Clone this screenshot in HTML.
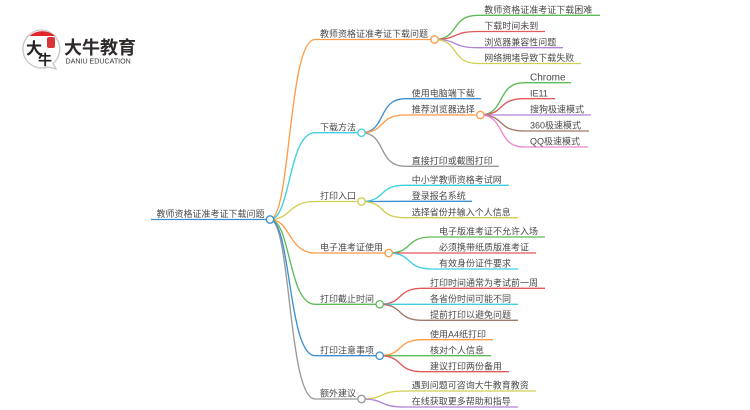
<!DOCTYPE html>
<html><head><meta charset="utf-8">
<style>
html,body{margin:0;padding:0;background:#fff;width:750px;height:410px;overflow:hidden}
svg{display:block;filter:blur(.35px)}
text.t{font-family:"Liberation Sans","Noto Sans CJK SC",sans-serif;font-size:9px;fill:#4a4a4a;transform:translateY(.6px)}
path{fill:none;stroke-width:1.35}
circle.n{fill:#fff;stroke-width:1.3}
</style></head><body>
<svg width="750" height="410" viewBox="0 0 750 410" xmlns="http://www.w3.org/2000/svg">
<!-- logo -->
<path d="M42 30a19 19 0 1 0 6 37l8 2-3-5.500a19 19 0 0 0-11-33.500z" stroke="#c8c8c8" stroke-width="1"/>
<path d="M29.500 36a19 19 0 0 1 25.500 0z" style="fill:#e0262b;stroke:none"/>
<rect x="47" y="37" width="8" height="11" rx="2" fill="#d8343a"/>
<text x="26" y="54" font-family="'Noto Sans CJK SC',sans-serif" font-size="16" font-weight="700" fill="#222">大</text>
<text x="38" y="65" font-family="'Noto Sans CJK SC',sans-serif" font-size="14" font-weight="700" fill="#222">牛</text>
<text x="64" y="54" font-family="'Noto Sans CJK SC',sans-serif" font-size="18" font-weight="700" fill="#2e2a2a">大牛教育</text>
<text x="65.500" y="63.300" font-family="'Liberation Sans',sans-serif" font-size="7.100" font-weight="400" fill="#3a3636">DANIU EDUCATION</text>

<!-- root -->
<path d="M151 219.500H270" stroke="#3d8fd1"/>
<path d="M270 219.500C291 219.500 288 39.500 315 39.500H434" stroke="#ff9c47"/>
<path d="M270 219.500C291 219.500 288 132.700 315 132.700H361" stroke="#3fd0e0"/>
<path d="M270 219.500C291 219.500 288 201.500 315 201.500H361" stroke="#cfcf55"/>
<path d="M270 219.500C291 219.500 288 253 315 253H388" stroke="#ff9c47"/>
<path d="M270 219.500C291 219.500 288 304.300 315 304.300H379" stroke="#5ebb58"/>
<path d="M270 219.500C291 219.500 288 399 315 399H361" stroke="#999"/>
<path d="M270 219.500C291 219.500 288 355.700 315 355.700H379" stroke="#3d8fd1"/>

<!-- B1 -->
<path d="M434 39.500C460 39.500 450 15.300 478 15.300H600" stroke="#5ebb58"/>
<path d="M434 39.500C460 39.500 450 31.500 478 31.500H545" stroke="#e25a5a"/>
<path d="M434 39.500C460 39.500 450 47.700 478 47.700H563" stroke="#b184d6"/>
<path d="M434 39.500C460 39.500 450 63.500 478 63.500H581" stroke="#cfcf55"/>
<!-- B2 -->
<path d="M361 132.700C387 132.700 377 98.700 405 98.700H481" stroke="#3d8fd1"/>
<path d="M361 132.700C387 132.700 377 115 405 115H480" stroke="#ff9c47"/>
<path d="M361 132.700C387 132.700 377 166.300 405 166.300H499" stroke="#999"/>
<path d="M480 115C506 115 496 82.700 524 82.700H571" stroke="#5ebb58"/>
<path d="M480 115C506 115 496 98.700 524 98.700H555" stroke="#e25a5a"/>
<path d="M480 115C506 115 496 115 524 115H591" stroke="#b184d6"/>
<path d="M480 115C506 115 496 131 524 131H589" stroke="#a5766a"/>
<path d="M480 115C506 115 496 147 524 147H588" stroke="#ee88d0"/>
<!-- B3 -->
<path d="M361 201.500C387 201.500 377 185.300 405 185.300H509" stroke="#3fd0e0"/>
<path d="M361 201.500C387 201.500 377 201.300 405 201.300H472" stroke="#3d8fd1"/>
<path d="M361 201.500C387 201.500 377 217.700 405 217.700H518" stroke="#cfcf55"/>
<!-- B4 -->
<path d="M388 253C414 253 404 237 432 237H545" stroke="#5ebb58"/>
<path d="M388 253C414 253 404 253 432 253H536" stroke="#e25a5a"/>
<path d="M388 253C414 253 404 269 432 269H518" stroke="#3fd0e0"/>
<!-- B5 -->
<path d="M379 304.300C405 304.300 395 288.300 423 288.300H545" stroke="#e25a5a"/>
<path d="M379 304.300C405 304.300 395 304.300 423 304.300H518" stroke="#3fd0e0"/>
<path d="M379 304.300C405 304.300 395 320.300 423 320.300H518" stroke="#a5766a"/>
<!-- B6 -->
<path d="M379 355.700C405 355.700 395 339.700 423 339.700H493" stroke="#ff9c47"/>
<path d="M379 355.700C405 355.700 395 355.700 423 355.700H491" stroke="#5ebb58"/>
<path d="M379 355.700C405 355.700 395 371.700 423 371.700H509" stroke="#e25a5a"/>
<!-- B7 -->
<path d="M361 399C387 399 377 391 405 391H536" stroke="#cfcf55"/>
<path d="M361 399C387 399 377 407 405 407H518" stroke="#b184d6"/>

<!-- nodes -->
<circle class="n" cx="270" cy="219.500" r="3.700" stroke="#3d8fd1"/>
<circle class="n" cx="434.500" cy="39.500" r="3.700" stroke="#ff9c47"/>
<circle class="n" cx="361.500" cy="132.700" r="3.700" stroke="#3fd0e0"/>
<circle class="n" cx="361.500" cy="201.500" r="3.700" stroke="#cfcf55"/>
<circle class="n" cx="388.700" cy="253" r="3.700" stroke="#ff9c47"/>
<circle class="n" cx="379.700" cy="304.300" r="3.700" stroke="#5ebb58"/>
<circle class="n" cx="379.700" cy="355.700" r="3.700" stroke="#3d8fd1"/>
<circle class="n" cx="361.500" cy="399" r="3.700" stroke="#999"/>
<circle class="n" cx="480.300" cy="115" r="3.700" stroke="#ff9c47"/>

<!-- labels -->
<text class="t" x="156.500" y="216.500">教师资格证准考证下载问题</text>
<text class="t" x="320" y="36.500">教师资格证准考证下载问题</text>
<text class="t" x="320" y="129.700">下载方法</text>
<text class="t" x="320" y="198.500">打印入口</text>
<text class="t" x="320" y="250">电子准考证使用</text>
<text class="t" x="320" y="301.300">打印截止时间</text>
<text class="t" x="320" y="352.700">打印注意事项</text>
<text class="t" x="320" y="396">额外建议</text>

<text class="t" x="484.300" y="12.300">教师资格证准考证下载困难</text>
<text class="t" x="484.300" y="28.500">下载时间未到</text>
<text class="t" x="484.300" y="44.700">浏览器兼容性问题</text>
<text class="t" x="484.300" y="60.500">网络拥堵导致下载失败</text>

<text class="t" x="411.700" y="95.700">使用电脑端下载</text>
<text class="t" x="411.700" y="112">推荐浏览器选择</text>
<text class="t" x="411.700" y="163.300">直接打印或截图打印</text>

<text class="t" x="530" y="80" style="font-size:10px">Chrome</text>
<text class="t" x="530" y="95.700">IE11</text>
<text class="t" x="530" y="112">搜狗极速模式</text>
<text class="t" x="530" y="128">360极速模式</text>
<text class="t" x="530" y="144">QQ极速模式</text>

<text class="t" x="411.700" y="182.300">中小学教师资格考试网</text>
<text class="t" x="411.700" y="198.300">登录报名系统</text>
<text class="t" x="411.700" y="214.700">选择省份并输入个人信息</text>

<text class="t" x="439" y="234">电子版准考证不允许入场</text>
<text class="t" x="439" y="250">必须携带纸质版准考证</text>
<text class="t" x="439" y="266">有效身份证件要求</text>

<text class="t" x="430" y="285.300">打印时间通常为考试前一周</text>
<text class="t" x="430" y="301.300">各省份时间可能不同</text>
<text class="t" x="430" y="317.300">提前打印以避免问题</text>

<text class="t" x="430" y="336.700">使用A4纸打印</text>
<text class="t" x="430" y="352.700">核对个人信息</text>
<text class="t" x="430" y="368.700">建议打印两份备用</text>

<text class="t" x="411.700" y="388">遇到问题可咨询大牛教育教资</text>
<text class="t" x="411.700" y="404">在线获取更多帮助和指导</text>
</svg>
</body></html>
